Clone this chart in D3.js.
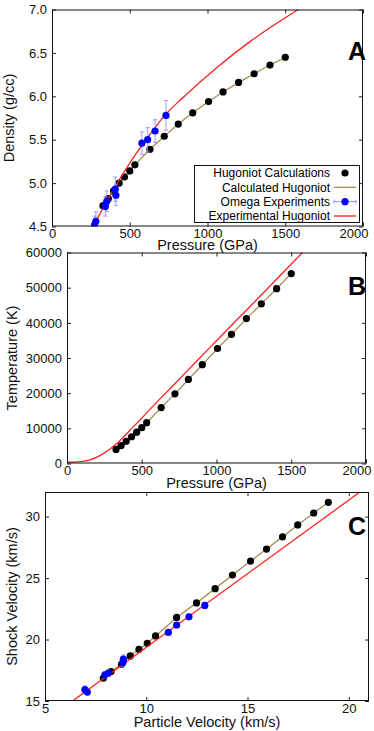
<!DOCTYPE html>
<html>
<head>
<meta charset="utf-8">
<script src="https://cdn.jsdelivr.net/npm/d3@7"></script>
<style>
  body { margin: 0; background: #fff; }
  svg { display: block; font-family: "Liberation Sans", Arial, sans-serif; }
  .tick text { font-family: "Liberation Sans", Arial, sans-serif; font-size: 13px; fill: #111; }
  .axis-title { font-size: 14.5px; fill: #111; }
  .panel-letter { font-size: 25px; font-weight: bold; fill: #000; }
  .legend text { font-size: 12px; fill: #000; }
</style>
</head>
<body>
<div id="chart"></div>
<script>
// Hugoniot calculations (black dots + brown line), shared by the 3 panels
const pressureCalc = [328, 362, 396, 432, 466, 500, 533, 630, 722, 812, 905, 1007, 1100, 1200, 1300, 1402, 1500];
const densityCalc = [4.74, 4.82, 4.91, 5.00, 5.07, 5.14, 5.21, 5.39, 5.54, 5.68, 5.81, 5.94, 6.05, 6.16, 6.26, 6.36, 6.45];
const temperatureCalc = [4000, 5100, 6300, 7600, 8900, 10200, 11600, 15900, 19800, 23900, 28100, 32700, 36700, 41200, 45400, 49700, 54000];
const particleVelCalc = [7.88, 8.26, 8.78, 9.21, 9.64, 10.05, 10.46, 11.50, 12.48, 13.40, 14.26, 15.15, 15.94, 16.73, 17.48, 18.27, 18.99];
const shockVelCalc = [16.86, 17.40, 17.99, 18.67, 19.21, 19.69, 20.29, 21.80, 22.98, 24.14, 25.25, 26.38, 27.36, 28.35, 29.32, 30.29, 31.16];

// Omega experiments (blue, with error bars)
const pressureExp = [274, 282, 343, 352, 407, 411, 578, 615, 663, 733];
const densityExp = [4.52, 4.56, 4.73, 4.79, 4.93, 4.86, 5.46, 5.50, 5.60, 5.78];
const densityErr = [0.10, 0.11, 0.11, 0.12, 0.14, 0.12, 0.13, 0.14, 0.13, 0.17];
const particleVelExp = [6.97, 7.09, 7.96, 8.13, 8.87, 8.85, 11.09, 11.50, 12.11, 12.89];
const shockVelExp = [15.92, 15.73, 17.13, 17.27, 18.40, 18.13, 20.58, 21.18, 21.85, 22.77];
const shockVelErr = [0.30, 0.20, 0.25, 0.25, 0.35, 0.30, 0.15, 0.20, 0.20, 0.20];

// Experimental Hugoniot (red)
const pressureFitA = [265, 300, 394, 545, 630, 725, 845, 1059, 1273, 1584];
const densityFitA = [4.50, 4.62, 4.92, 5.35, 5.56, 5.78, 5.99, 6.33, 6.63, 7.00];
const pressureFitB = [0, 90, 155, 220, 290, 355, 420, 490, 555, 620, 710, 860, 1000, 1200, 1400, 1575];
const temperatureFitB = [350, 550, 1050, 2250, 4200, 6550, 9400, 12450, 15400, 18300, 22200, 28800, 34900, 43600, 52300, 60000];
const particleVelFitC = [6.36, 20.55];
const shockVelFitC = [15.0, 32.0];

// legend
const legendLabels = ['Hugoniot Calculations', 'Calculated Hugoniot', 'Omega Experiments', 'Experimental Hugoniot'];

const BROWN = '#a88c50';
const RED = '#ff2020';
const BLUE = '#0000ff';
const ERR = '#8c8cff';

const svg = d3.select('#chart').append('svg')
    .attr('width', 374)
    .attr('height', 731);

const zip = (xs, ys) => xs.map((x, i) => [x, ys[i]]);

class HugoniotPanel {
    constructor(_config, _data) {
        this.config = _config;
        this.data = _data;
        this.initVis();
    }

    initVis() {
        const vis = this;
        const c = vis.config;
        c.width = c.right - c.left;
        c.height = c.bottom - c.top;

        vis.xScale = d3.scaleLinear().domain(c.xDomain).range([0, c.width]);
        vis.yScale = d3.scaleLinear().domain(c.yDomain).range([c.height, 0]);

        vis.g = svg.append('g')
            .attr('transform', `translate(${c.left},${c.top})`);

        vis.g.append('clipPath').attr('id', `clip-${c.id}`)
            .append('rect')
            .attr('width', c.width)
            .attr('height', c.height);

        vis.plot = vis.g.append('g').attr('clip-path', `url(#clip-${c.id})`);

        // inward ticks on all four sides, labels only bottom & left
        vis.xAxisGroup = vis.g.append('g')
            .attr('transform', `translate(0,${c.height})`)
            .call(d3.axisBottom(vis.xScale).tickValues(c.xTicks).tickSizeInner(-4).tickSizeOuter(0)
                .tickPadding(2.5).tickFormat(d3.format('d')))
            .call(g => g.select('.domain').remove());
        // last label pulled in so it stays on the page, like the original
        if (c.lastTickEnd) {
            vis.xAxisGroup.selectAll('.tick:last-of-type text')
                .attr('text-anchor', 'end')
                .attr('x', 5);
        }
        vis.g.append('g')
            .call(d3.axisTop(vis.xScale).tickValues(c.xTicks).tickSizeInner(-4).tickSizeOuter(0).tickFormat(''))
            .call(g => g.select('.domain').remove());
        vis.g.append('g')
            .call(d3.axisLeft(vis.yScale).tickValues(c.yTicks).tickSizeInner(-4).tickSizeOuter(0).tickPadding(5).tickFormat(c.yFormat))
            .call(g => g.select('.domain').remove());
        vis.g.append('g')
            .attr('transform', `translate(${c.width},0)`)
            .call(d3.axisRight(vis.yScale).tickValues(c.yTicks).tickSizeInner(-4).tickSizeOuter(0).tickFormat(''))
            .call(g => g.select('.domain').remove());
        vis.g.selectAll('.tick line').attr('stroke', '#222');

        // titles
        svg.append('text')
            .attr('class', 'axis-title')
            .attr('x', c.left + c.width / 2)
            .attr('y', c.xTitleY)
            .attr('text-anchor', 'middle')
            .text(c.xTitle);
        svg.append('text')
            .attr('class', 'axis-title')
            .attr('transform', `translate(${c.yTitleX},${c.top + c.height / 2}) rotate(-90)`)
            .attr('text-anchor', 'middle')
            .text(c.yTitle);

        vis.renderVis();
    }

    renderVis() {
        const vis = this;
        const c = vis.config;
        const d = vis.data;
        const line = d3.line().x(p => vis.xScale(p[0])).y(p => vis.yScale(p[1]));
        const smooth = d3.line().curve(d3.curveMonotoneX)
            .x(p => vis.xScale(p[0])).y(p => vis.yScale(p[1]));

        // calculated hugoniot line
        vis.plot.append('path')
            .datum(zip(d.calcX, d.calcY))
            .attr('fill', 'none')
            .attr('stroke', BROWN)
            .attr('stroke-width', 1.3)
            .attr('d', line);

        // calculated points
        vis.plot.selectAll('.calc-dot')
            .data(zip(d.calcX, d.calcY))
            .join('circle')
            .attr('class', 'calc-dot')
            .attr('cx', p => vis.xScale(p[0]))
            .attr('cy', p => vis.yScale(p[1]))
            .attr('r', 3.6)
            .attr('fill', '#000');

        // experimental fit
        vis.plot.append('path')
            .datum(zip(d.fitX, d.fitY))
            .attr('fill', 'none')
            .attr('stroke', RED)
            .attr('stroke-width', 1.3)
            .attr('d', smooth);

        // omega experiments
        if (d.expX) {
            const pts = d.expX.map((x, i) => ({ x: x, y: d.expY[i], e: d.expErr[i] }));
            const eb = vis.plot.selectAll('.err')
                .data(pts)
                .join('g')
                .attr('class', 'err')
                .attr('stroke', ERR)
                .attr('stroke-width', 1)
                .attr('opacity', 0.85);
            eb.append('line')
                .attr('x1', p => vis.xScale(p.x)).attr('x2', p => vis.xScale(p.x))
                .attr('y1', p => vis.yScale(p.y - p.e)).attr('y2', p => vis.yScale(p.y + p.e));
            eb.append('line')
                .attr('x1', p => vis.xScale(p.x) - 2).attr('x2', p => vis.xScale(p.x) + 2)
                .attr('y1', p => vis.yScale(p.y - p.e)).attr('y2', p => vis.yScale(p.y - p.e));
            eb.append('line')
                .attr('x1', p => vis.xScale(p.x) - 2).attr('x2', p => vis.xScale(p.x) + 2)
                .attr('y1', p => vis.yScale(p.y + p.e)).attr('y2', p => vis.yScale(p.y + p.e));

            vis.plot.selectAll('.exp-dot')
                .data(pts)
                .join('circle')
                .attr('class', 'exp-dot')
                .attr('cx', p => vis.xScale(p.x))
                .attr('cy', p => vis.yScale(p.y))
                .attr('r', 3.6)
                .attr('fill', BLUE);
        }

        // frame
        vis.g.append('rect')
            .attr('x', 0.5).attr('y', 0.5)
            .attr('width', c.width - 1).attr('height', c.height - 1)
            .attr('fill', 'none')
            .attr('stroke', '#111')
            .attr('stroke-width', 1);

        svg.append('text')
            .attr('class', 'panel-letter')
            .attr('x', 366)
            .attr('y', c.letterY)
            .attr('text-anchor', 'end')
            .text(c.letter);
    }
}

const panelA = new HugoniotPanel({
    id: 'a', left: 52, right: 363, top: 9.5, bottom: 226.5,
    xDomain: [0, 2000], yDomain: [4.5, 7.0],
    xTicks: [0, 500, 1000, 1500, 2000], yTicks: [4.5, 5.0, 5.5, 6.0, 6.5, 7.0],
    yFormat: d3.format('.1f'), lastTickEnd: true,
    xTitle: 'Pressure (GPa)', xTitleY: 249.5,
    yTitle: 'Density (g/cc)', yTitleX: 13.5,
    letter: 'A', letterY: 60
}, {
    calcX: pressureCalc, calcY: densityCalc,
    expX: pressureExp, expY: densityExp, expErr: densityErr,
    fitX: pressureFitA, fitY: densityFitA
});

const panelB = new HugoniotPanel({
    id: 'b', left: 67, right: 366, top: 252.5, bottom: 463.5,
    xDomain: [0, 2000], yDomain: [0, 60000],
    xTicks: [0, 500, 1000, 1500, 2000], yTicks: [0, 10000, 20000, 30000, 40000, 50000, 60000],
    yFormat: d3.format('d'), lastTickEnd: true,
    xTitle: 'Pressure (GPa)', xTitleY: 488,
    yTitle: 'Temperature (K)', yTitleX: 16.5,
    letter: 'B', letterY: 295
}, {
    calcX: pressureCalc, calcY: temperatureCalc,
    fitX: pressureFitB, fitY: temperatureFitB
});

const panelC = new HugoniotPanel({
    id: 'c', left: 45, right: 369, top: 492, bottom: 701,
    xDomain: [5, 21], yDomain: [15, 32],
    xTicks: [5, 10, 15, 20], yTicks: [15, 20, 25, 30],
    yFormat: d3.format('d'),
    xTitle: 'Particle Velocity (km/s)', xTitleY: 727,
    yTitle: 'Shock Velocity (km/s)', yTitleX: 16.5,
    letter: 'C', letterY: 535
}, {
    calcX: particleVelCalc, calcY: shockVelCalc,
    expX: particleVelExp, expY: shockVelExp, expErr: shockVelErr,
    fitX: particleVelFitC, fitY: shockVelFitC
});

// legend of panel A
const legend = svg.append('g').attr('class', 'legend');
legend.append('rect')
    .attr('x', 194.5).attr('y', 165.5)
    .attr('width', 165).attr('height', 57)
    .attr('fill', '#fff')
    .attr('stroke', '#111');
const rowY = d3.scalePoint().domain(legendLabels).range([173, 216]);
legend.selectAll('text')
    .data(legendLabels)
    .join('text')
    .attr('x', 330)
    .attr('y', d => rowY(d) + 4.3)
    .attr('text-anchor', 'end')
    .text(d => d);
legend.append('circle').attr('cx', 345).attr('cy', rowY(legendLabels[0])).attr('r', 3.6).attr('fill', '#000');
legend.append('line').attr('x1', 334).attr('x2', 356)
    .attr('y1', rowY(legendLabels[1])).attr('y2', rowY(legendLabels[1]))
    .attr('stroke', BROWN).attr('stroke-width', 1.3);
const omegaY = rowY(legendLabels[2]);
legend.append('line').attr('x1', 334).attr('x2', 356).attr('y1', omegaY).attr('y2', omegaY)
    .attr('stroke', ERR).attr('stroke-width', 1);
[334, 356].forEach(x => legend.append('line')
    .attr('x1', x).attr('x2', x).attr('y1', omegaY - 2).attr('y2', omegaY + 2)
    .attr('stroke', ERR).attr('stroke-width', 1));
legend.append('circle').attr('cx', 345).attr('cy', omegaY).attr('r', 3.6).attr('fill', BLUE);
legend.append('line').attr('x1', 334).attr('x2', 356)
    .attr('y1', rowY(legendLabels[3])).attr('y2', rowY(legendLabels[3]))
    .attr('stroke', RED).attr('stroke-width', 1.3);
</script>
</body>
</html>
